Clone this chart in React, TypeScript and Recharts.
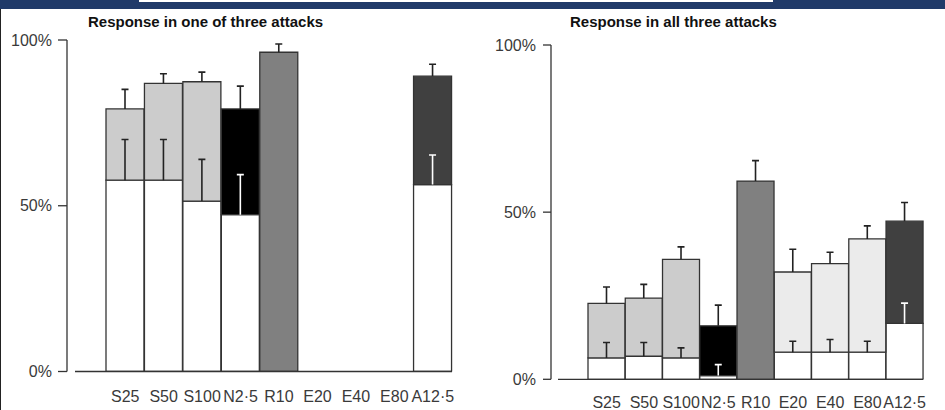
import React from 'react';
import { BarChart, Bar, XAxis, YAxis, Cell } from 'recharts';

const categories = ['S25', 'S50', 'S100', 'N2·5', 'R10', 'E20', 'E40', 'E80', 'A12·5'];

// response in one of three attacks (%), white part = base, total = top of shaded part
const oneTotal = [79.2, 86.9, 87.4, 79.2, 96.3, 0, 0, 0, 89.1];
const oneTotalHi = [85.1, 89.8, 90.3, 86.1, 98.8, null, null, null, 92.7];
const oneBase = [57.7, 57.7, 51.4, 47.3, 0, 0, 0, 0, 56.4];
const oneBaseHi = [70.0, 70.0, 64.0, 59.4, null, null, null, null, 65.3];

// response in all three attacks (%)
const allTotal = [22.7, 24.3, 35.9, 16.0, 59.3, 32.1, 34.6, 42.0, 47.3];
const allTotalHi = [27.6, 28.4, 39.6, 22.2, 65.4, 38.9, 38.0, 45.9, 52.9];
const allBase = [6.4, 6.9, 6.4, 1.1, 0, 8.1, 8.1, 8.1, 16.7];
const allBaseHi = [11.0, 11.0, 9.4, 4.4, null, 11.4, 11.9, 11.4, 22.8];

const yTicks = [0, 50, 100];

const fills = ['#cccccc', '#cccccc', '#cccccc', '#000000', '#808080', '#ebebeb', '#ebebeb', '#ebebeb', '#404040'];
const darkTop = new Set(['N2·5', 'A12·5']);
const font = '"Liberation Sans", Arial, sans-serif';
const ink = '#333';

function buildRows(total: number[], totalHi: (number | null)[], base: number[], baseHi: (number | null)[]) {
  return categories.map((cat, i) => ({
    cat,
    base: base[i],
    top: total[i] - base[i],
    baseErr: baseHi[i] == null ? null : [base[i], baseHi[i]],
    topErr: totalHi[i] == null ? null : [total[i], totalHi[i]],
  }));
}

const oneRows = buildRows(oneTotal, oneTotalHi, oneBase, oneBaseHi);
const allRows = buildRows(allTotal, allTotalHi, allBase, allBaseHi);

// error whisker: only the upper half, drawn from a range bar
const errShape = (onBase: boolean) => (p: any) => {
  const val = p && p.payload ? (onBase ? p.payload.baseErr : p.payload.topErr) : null;
  if (!val || p.height == null) return <g />;
  const cx = p.x + p.width / 2;
  const y1 = Math.min(p.y, p.y + p.height);
  const y2 = Math.max(p.y, p.y + p.height);
  const c = onBase && darkTop.has(p.payload.cat) ? '#ffffff' : '#222';
  return (
    <g>
      <line x1={cx} x2={cx} y1={y1} y2={y2} stroke={c} strokeWidth={1.6} />
      <line x1={cx - 3.5} x2={cx + 3.5} y1={y1} y2={y1} stroke={c} strokeWidth={1.6} />
    </g>
  );
};

function Panel({ rows, width, yWidth, top, right, bottom, pad, shift, tickLen, labelGap, labelMargin }: any) {
  const yTick = (p: any) => (
    <g>
      <line x1={p.x - shift - tickLen} x2={p.x - shift} y1={p.y} y2={p.y} stroke={ink} strokeWidth={1.3} />
      <text x={p.x - labelGap} y={p.y} dy="0.35em" textAnchor="end" fill="#3a3a3a" fontSize={16} fontFamily={font}>
        {p.payload.value}%
      </text>
    </g>
  );
  return (
    <BarChart width={width} height={410} data={rows} margin={{ top, right, bottom, left: 0 }} barCategoryGap={0} barGap={0}>
      <XAxis
        dataKey="cat"
        interval={0}
        padding={{ left: pad, right: 0 }}
        tickLine={false}
        tickSize={0}
        tickMargin={labelMargin}
        axisLine={{ stroke: ink, strokeWidth: 1.3 }}
        tick={{ fill: '#3a3a3a', fontSize: 16, fontFamily: font }}
      />
      <XAxis xAxisId="e1" dataKey="cat" hide padding={{ left: pad, right: 0 }} />
      <XAxis xAxisId="e2" dataKey="cat" hide padding={{ left: pad, right: 0 }} />
      <YAxis
        domain={[0, 100]}
        ticks={yTicks}
        width={yWidth}
        tickLine={false}
        tickSize={0}
        tickMargin={0}
        allowDataOverflow
        axisLine={{ stroke: ink, strokeWidth: 1.3, transform: `translate(${-shift},0)` }}
        tick={yTick}
      />
      <Bar dataKey="base" stackId="s" fill="#ffffff" stroke={ink} strokeWidth={1.3} isAnimationActive={false} />
      <Bar dataKey="top" stackId="s" stroke={ink} strokeWidth={1.3} isAnimationActive={false}>
        {rows.map((r: any, i: number) => (
          <Cell key={r.cat} fill={fills[i]} />
        ))}
      </Bar>
      <Bar xAxisId="e1" dataKey="baseErr" fill="none" shape={errShape(true)} isAnimationActive={false} />
      <Bar xAxisId="e2" dataKey="topErr" fill="none" shape={errShape(false)} isAnimationActive={false} />
    </BarChart>
  );
}

const titleStyle: React.CSSProperties = {
  position: 'absolute',
  top: 14,
  fontFamily: font,
  fontWeight: 'bold',
  fontSize: 15,
  lineHeight: '15px',
  color: '#111',
  whiteSpace: 'nowrap',
};

export default function App() {
  return (
    <div style={{ position: 'absolute', left: 0, top: 0, width: 945, height: 410, background: '#fff', overflow: 'hidden' }}>
      <div style={{ position: 'absolute', left: 0, top: 0, width: 945, height: 9, background: '#203a69' }} />
      <div style={{ position: 'absolute', left: 139, top: 0, width: 634, height: 2, background: '#fff' }} />
      <div style={{ position: 'absolute', left: 0, top: 9, width: 1, height: 401, background: '#222' }} />
      <div style={{ ...titleStyle, left: 88 }}>Response in one of three attacks</div>
      <div style={{ ...titleStyle, left: 570 }}>Response in all three attacks</div>
      <div style={{ position: 'absolute', left: 0, top: 0 }}>
        <Panel rows={oneRows} width={470} yWidth={75} top={40} right={18} bottom={8.5} pad={31}
          shift={8} tickLen={9} labelGap={23} labelMargin={19} />
      </div>
      <div style={{ position: 'absolute', left: 480, top: 0 }}>
        <Panel rows={allRows} width={465} yWidth={78} top={45} right={21.7} bottom={0.7} pad={30}
          shift={7} tickLen={8} labelGap={22} labelMargin={17} />
      </div>
    </div>
  );
}
